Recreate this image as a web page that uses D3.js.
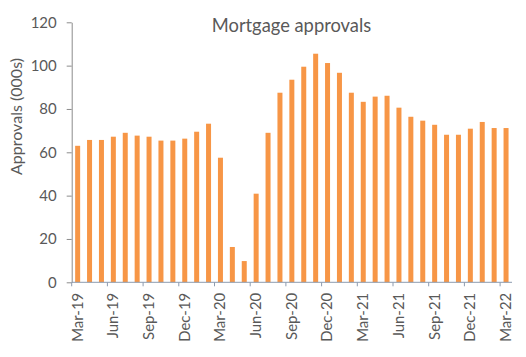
<!DOCTYPE html>
<html>
<head>
<meta charset="utf-8">
<script src="https://cdn.jsdelivr.net/npm/d3@7"></script>
<style>
  html, body { margin: 0; padding: 0; background: #ffffff; }
  svg { display: block; }
  text { font-family: Lato, "Open Sans", "Liberation Sans", sans-serif; fill: #595959; }
</style>
</head>
<body>
<svg id="chart" width="526" height="357"></svg>
<script>
const months = ["Mar-19","Apr-19","May-19","Jun-19","Jul-19","Aug-19","Sep-19","Oct-19","Nov-19","Dec-19","Jan-20","Feb-20",
  "Mar-20","Apr-20","May-20","Jun-20","Jul-20","Aug-20","Sep-20","Oct-20","Nov-20","Dec-20","Jan-21","Feb-21",
  "Mar-21","Apr-21","May-21","Jun-21","Jul-21","Aug-21","Sep-21","Oct-21","Nov-21","Dec-21","Jan-22","Feb-22","Mar-22"];
const approvals = [63.0, 65.7, 65.7, 67.2, 69.0, 67.7, 67.2, 65.4, 65.4, 66.3, 69.5, 73.2,
  57.5, 16.3, 9.8, 40.9, 69.0, 87.5, 93.5, 99.5, 105.5, 101.2, 96.7, 87.5,
  83.3, 85.7, 86.1, 80.6, 76.4, 74.6, 72.7, 68.1, 68.1, 70.9, 74.0, 71.2, 71.2];
const yTicks = [0, 20, 40, 60, 80, 100, 120];
const title = "Mortgage approvals";
const yTitle = "Approvals (000s)";

(function () {
const svg = d3.select("#chart");
const mLeft = 71.7, mRight = 512, mTop = 22.3, mBottom = 282.3;

const x = d3.scaleBand().domain(months).range([mLeft, mRight]).paddingInner(0.58).paddingOuter(0.29);
const y = d3.scaleLinear().domain([0, 120]).range([mBottom, mTop]);

function fit(sel, target) {
  const n = sel.node();
  const fs = parseFloat(sel.attr("font-size"));
  const w = n.getComputedTextLength();
  sel.attr("font-size", (fs * target / w).toFixed(2));
}

// bars
svg.append("g").selectAll("rect").data(approvals).join("rect")
  .attr("x", (d, i) => x(months[i]))
  .attr("y", d => y(d))
  .attr("width", x.bandwidth())
  .attr("height", d => y(0) - y(d))
  .attr("fill", "#F79646");

// y axis
const yAxis = svg.append("g").attr("transform", `translate(${mLeft},0)`)
  .call(d3.axisLeft(y).tickValues(yTicks).tickSize(5).tickPadding(10).tickSizeOuter(0));
yAxis.select(".domain").attr("stroke", "#8c8c8c");
yAxis.selectAll(".tick line").attr("stroke", "#8c8c8c");
yAxis.selectAll(".tick text").attr("font-size", 15).attr("fill", "#595959")
  .style("font-family", "Lato, 'Open Sans', sans-serif");
{
  const t = yAxis.selectAll(".tick text").filter(d => d === 120);
  const w = t.node().getComputedTextLength();
  const fs = 15 * 26 / w;
  yAxis.selectAll(".tick text").attr("font-size", fs.toFixed(2));
}

// x axis
const xg = svg.append("g");
xg.append("line").attr("x1", mLeft).attr("x2", mRight).attr("y1", y(0)).attr("y2", y(0))
  .attr("stroke", "#8c9bb0").attr("stroke-width", 1);
const step = x.step();
const gapHalf = (step - x.bandwidth()) / 2;
const labelIdx = months.map((m, i) => i).filter(i => i % 3 === 0);
xg.selectAll("line.tick").data(labelIdx).join("line").attr("class", "tick")
  .attr("x1", i => x(months[i]) - gapHalf)
  .attr("x2", i => x(months[i]) - gapHalf)
  .attr("y1", y(0)).attr("y2", y(0) + 4)
  .attr("stroke", "#8c9bb0");
const xl = xg.selectAll("text").data(labelIdx).join("text")
  .attr("transform", i => `translate(${x(months[i]) + x.bandwidth() / 2},${y(0) + 10.5}) rotate(-90)`)
  .attr("text-anchor", "end")
  .attr("dy", "0.33em")
  .attr("font-size", 15)
  .text(i => months[i]);
{
  const w = xl.filter(i => i === 0).node().getComputedTextLength();
  xl.attr("font-size", (15 * 49 / w).toFixed(2));
}

// title
const tt = svg.append("text").attr("x", 291.5).attr("y", 31.7).attr("text-anchor", "middle")
  .attr("font-size", 18).text(title);
fit(tt, 159.5);

// y title
const yt = svg.append("text").attr("transform", `translate(22,116.5) rotate(-90)`)
  .attr("text-anchor", "middle").attr("font-size", 14).text(yTitle);
fit(yt, 117);
})();
</script>
</body>
</html>
